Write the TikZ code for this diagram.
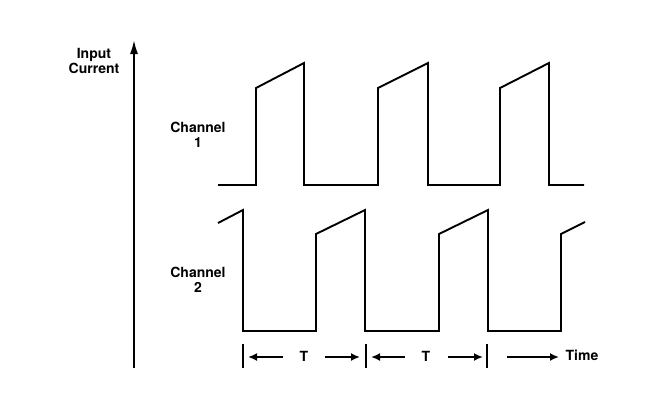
\documentclass[tikz,border=0pt]{standalone}
\usepackage{fontspec}
\setmainfont{TeX Gyre Heros}
\usetikzlibrary{arrows.meta}
\begin{document}
\begin{tikzpicture}[x=1pt,y=-1pt,
  wave/.style={line width=1.9pt, line join=miter},
  axis/.style={line width=1.9pt},
  lbl/.style={font=\fontsize{14}{15.5}\selectfont\bfseries, align=center, inner sep=0pt},
  darr/.style={line width=1.9pt, -{Latex[length=9pt,width=8pt]}},
  tick/.style={line width=1.5pt}]
\useasboundingbox (0,0) rectangle (666,410);
% axis
\coordinate (ab) at (134,368);
\coordinate (at) at (134,40);
\draw[axis,-{Latex[length=14pt,width=8pt]}] (ab) -- (at);
\node[lbl] (yl) at (94,61) {Input\\Current};
\node[lbl] (c1) at (198,135) {Channel\\1};
\node[lbl] (c2) at (198,280) {Channel\\2};
% channel 1
\draw[wave] (218,185) -- (256,185) -- (256,88) -- (304,63) -- (304,185)
  -- (378,185) -- (378,88) -- (428,63) -- (428,185)
  -- (500,185) -- (500,88) -- (549,63) -- (549,185) -- (584,185);
% channel 2
\draw[wave] (218,223) -- (243,210) -- (243,331) -- (316,331) -- (316,234) -- (365,210) -- (365,331)
  -- (439,331) -- (439,234) -- (488,210) -- (488,331)
  -- (561,331) -- (561,234) -- (585,222);
% time ticks
\coordinate (t1a) at (243,344); \coordinate (t1b) at (243,368);
\coordinate (t2a) at (366,344); \coordinate (t2b) at (366,368);
\coordinate (t3a) at (487,344); \coordinate (t3b) at (487,368);
\draw[tick] (t1a) -- (t1b);
\draw[tick] (t2a) -- (t2b);
\draw[tick] (t3a) -- (t3b);
\node[lbl] (T1) at (304,356) {T};
\node[lbl] (T2) at (426,356) {T};
\coordinate (a1s) at (283,357); \coordinate (a1e) at (248,357);
\coordinate (a2s) at (325,357); \coordinate (a2e) at (360,357);
\coordinate (a3s) at (405,357); \coordinate (a3e) at (371,357);
\coordinate (a4s) at (448,357); \coordinate (a4e) at (483,357);
\coordinate (a5s) at (507,357); \coordinate (a5e) at (559,357);
\draw[darr] (a1s) -- (a1e);
\draw[darr] (a2s) -- (a2e);
\draw[darr] (a3s) -- (a3e);
\draw[darr] (a4s) -- (a4e);
\draw[darr] (a5s) -- (a5e);
\node[lbl] (time) at (582,355) {Time};
\end{tikzpicture}
\end{document}
